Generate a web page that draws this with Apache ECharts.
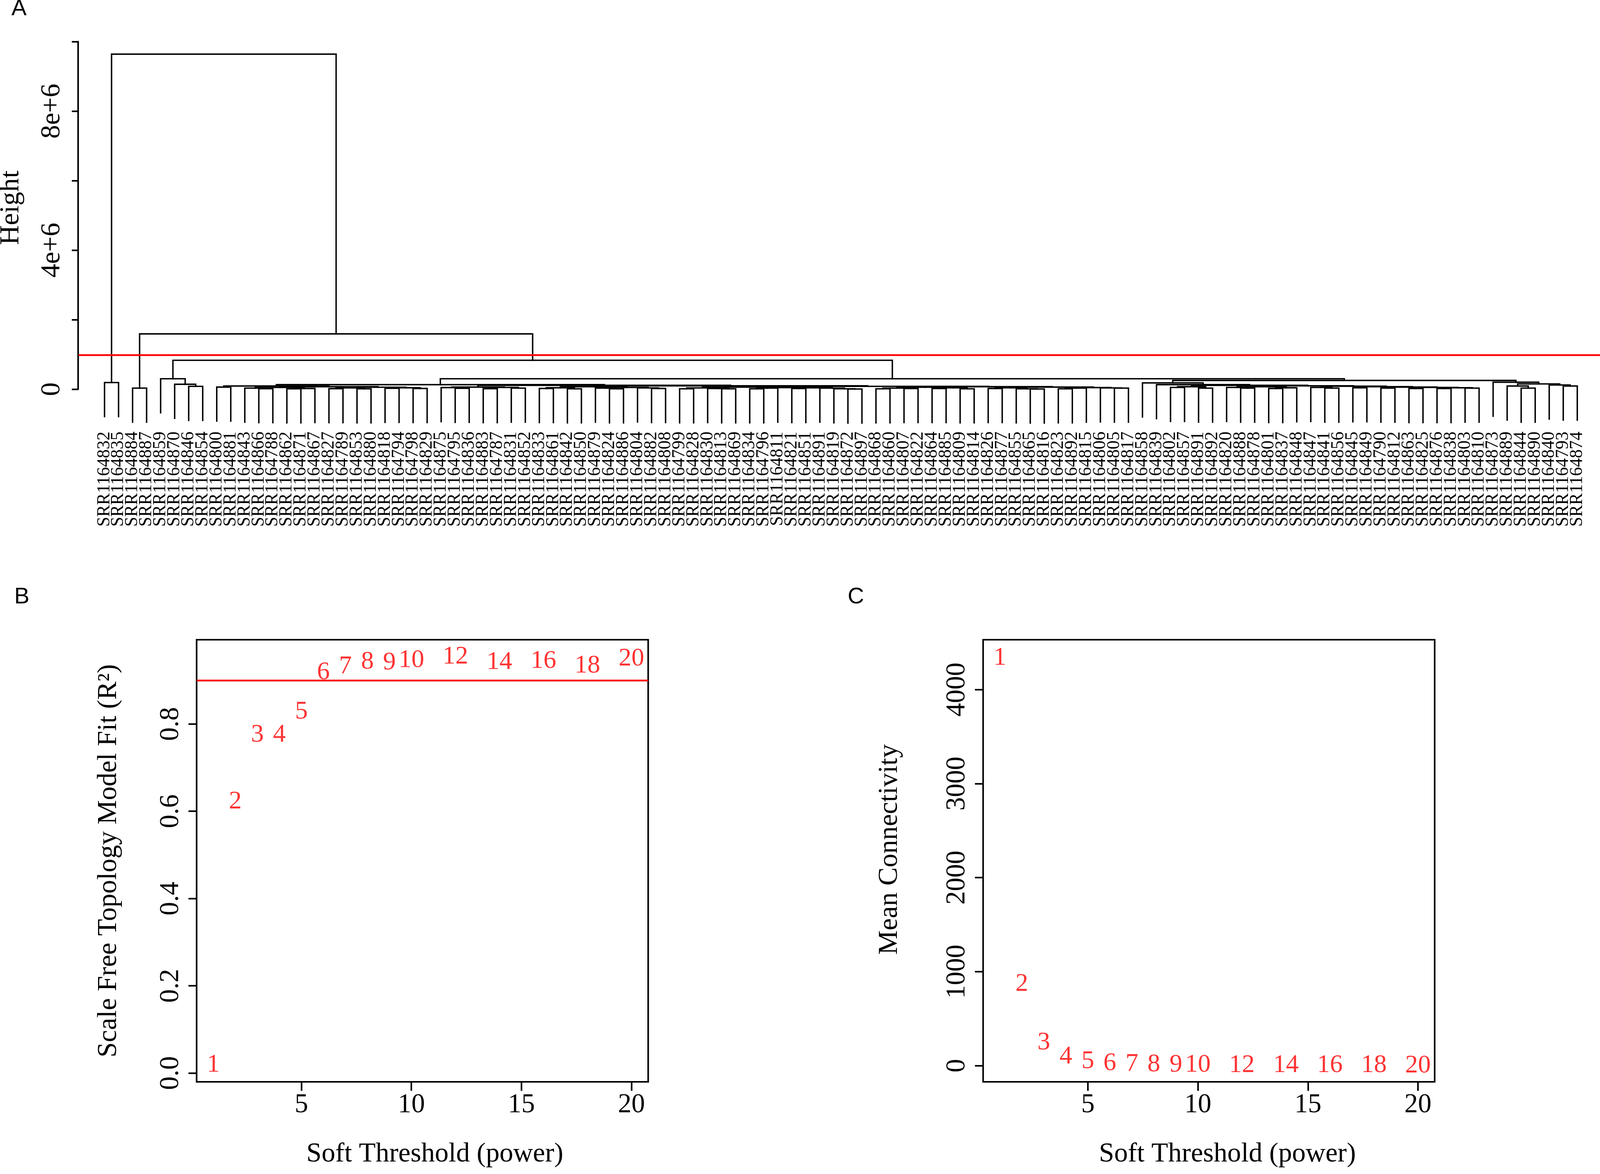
<!DOCTYPE html>
<html>
<head>
<meta charset="utf-8">
<script src="https://cdn.jsdelivr.net/npm/echarts@6/dist/echarts.min.js"></script>
<style>
	html, body { margin: 0; padding: 0; background: #fff; overflow: hidden; }
	#content-data { width: 100vw; height: 100vh; }
</style>
</head>
<body>
<div id="content-data"></div>
<script>
/*DATA*/
// sample labels in dendrogram leaf order
var leafNames = [
	'SRR1164832','SRR1164835','SRR1164884','SRR1164887','SRR1164859','SRR1164870','SRR1164846','SRR1164854','SRR1164800','SRR1164881',
	'SRR1164843','SRR1164866','SRR1164788','SRR1164862','SRR1164871','SRR1164867','SRR1164827','SRR1164789','SRR1164853','SRR1164880',
	'SRR1164818','SRR1164794','SRR1164798','SRR1164829','SRR1164875','SRR1164795','SRR1164836','SRR1164883','SRR1164787','SRR1164831',
	'SRR1164852','SRR1164833','SRR1164861','SRR1164842','SRR1164850','SRR1164879','SRR1164824','SRR1164886','SRR1164804','SRR1164882',
	'SRR1164808','SRR1164799','SRR1164828','SRR1164830','SRR1164813','SRR1164869','SRR1164834','SRR1164796','SRR1164811','SRR1164821',
	'SRR1164851','SRR1164891','SRR1164819','SRR1164872','SRR1164897','SRR1164868','SRR1164860','SRR1164807','SRR1164822','SRR1164864',
	'SRR1164885','SRR1164809','SRR1164814','SRR1164826','SRR1164877','SRR1164855','SRR1164865','SRR1164816','SRR1164823','SRR1164892',
	'SRR1164815','SRR1164806','SRR1164805','SRR1164817','SRR1164858','SRR1164839','SRR1164802','SRR1164857','SRR1164891','SRR1164892',
	'SRR1164820','SRR1164888','SRR1164878','SRR1164801','SRR1164837','SRR1164848','SRR1164847','SRR1164841','SRR1164856','SRR1164845',
	'SRR1164849','SRR1164790','SRR1164812','SRR1164863','SRR1164825','SRR1164876','SRR1164838','SRR1164803','SRR1164810','SRR1164873',
	'SRR1164889','SRR1164844','SRR1164890','SRR1164840','SRR1164793','SRR1164874'
];

// cluster tree: [height, left, right], numbers are leaf positions (1-based)
var clusterG = [0.13e6,
	[0.09e6, [0.06e6, 9, 10],
		[0.07e6,
			[0.05e6, [0.03e6, 11, [0.015e6, 12, 13]], [0.02e6, [0.01e6, 14, 15], 16]],
			[0.055e6, [0.035e6, [0.015e6, 17, 18], [0.01e6, 19, 20]], [0.04e6, [0.025e6, 21, 22], [0.02e6, 23, 24]]]]],
	[0.11e6,
		[0.06e6, [0.045e6, 25, [0.025e6, 26, 27]], [0.05e6, [0.015e6, 28, 29], [0.03e6, 30, 31]]],
		[0.095e6,
			[0.07e6, [0.04e6, [0.02e6, 32, 33], [0.01e6, 34, 35]], [0.05e6, [0.03e6, 36, [0.01e6, 37, 38]], [0.035e6, 39, [0.02e6, 40, 41]]]],
			[0.08e6,
				[0.06e6, [0.035e6, [0.01e6, 42, 43], [0.02e6, 44, [0.01e6, 45, 46]]],
					[0.045e6, [0.03e6, [0.01e6, 47, 48], 49], [0.04e6, [0.02e6, 50, 51], [0.03e6, 52, [0.01e6, 53, [0.005e6, 54, 55]]]]]],
				[0.07e6,
					[0.055e6, [0.03e6, [0.01e6, 56, 57], [0.02e6, 58, 59]], [0.04e6, [0.02e6, 60, 61], [0.01e6, 62, 63]]],
					[0.06e6, [0.04e6, [0.02e6, 64, 65], [0.01e6, 66, [0.005e6, 67, 68]]],
						[0.045e6, [0.03e6, [0.01e6, 69, 70], 71], [0.035e6, 72, [0.03e6, 73, 74]]]]]]]]
];
var clusterH = [0.25e6,
	[0.18e6, 75,
		[0.13e6, 76,
			[0.11e6, [0.07e6, [0.05e6, 77, 78], [0.03e6, 79, 80]],
				[0.095e6,
					[0.07e6, [0.05e6, 81, [0.03e6, 82, 83]], [0.04e6, [0.02e6, 84, 85], 86]],
					[0.085e6, [0.05e6, 87, [0.03e6, 88, 89]],
						[0.07e6, [0.04e6, 90, 91], [0.06e6, [0.03e6, 92, 93], [0.05e6, [0.02e6, 94, 95], [0.04e6, [0.02e6, 96, 97], [0.03e6, 98, 99]]]]]]]]]],
	[0.20e6, 100, [0.15e6, [0.09e6, 101, [0.03e6, 102, 103]], [0.12e6, 104, [0.09e6, 105, 106]]]]
];
var dendroTree = [9.64e6,
	[0.19e6, 1, 2],
	[1.59e6,
		[0.03e6, 3, 4],
		[0.83e6,
			[0.30e6, 5, [0.14e6, 6, [0.08e6, 7, 8]]],
			[0.30e6, clusterG, clusterH]]]
];
var hangHeight = 0.98e6;
var cutHeight = 0.98e6;
var heightTicks = [0, 2e6, 4e6, 6e6, 8e6, 10e6];
var heightTickLabels = ['0', '', '4e+6', '', '8e+6', ''];

// soft threshold
var powers = [1, 2, 3, 4, 5, 6, 7, 8, 9, 10, 12, 14, 16, 18, 20];
var scaleFreeFit = [0.019, 0.622, 0.775, 0.775, 0.828, 0.918, 0.931, 0.942, 0.940, 0.946, 0.954, 0.941, 0.944, 0.933, 0.949];
var meanConnectivity = [4335, 868, 245, 93, 45, 24, 15, 13, 8, 7, 4, 3, 2, 2, 1];
var fitCut = 0.9;
var powerTicks = [5, 10, 15, 20];
var fitTicks = [0, 0.2, 0.4, 0.6, 0.8];
var connTicks = [0, 1000, 2000, 3000, 4000];

/*LAYOUT OF THE TREE*/
function walkTree(node, segs){
	if (typeof node === 'number') {
		return { x: node, h: null };
	}
	var h = node[0];
	var l = walkTree(node[1], segs);
	var r = walkTree(node[2], segs);
	var lb = l.h === null ? h - hangHeight : l.h;
	var rb = r.h === null ? h - hangHeight : r.h;
	segs.push({ coords: [[l.x, lb], [l.x, h], [r.x, h], [r.x, rb]] });
	return { x: (l.x + r.x) / 2, h: h };
}

var serif = 'Liberation Serif';
var black = '#000';
// the layout was measured on a 4500 x 3006 picture, stretch it to the window
var sx = window.innerWidth / 4500;
var sy = window.innerHeight / 3006;
var sf = Math.min(sx, sy);
function X(v){ return v * sx; }
function Y(v){ return v * sy; }
function F(v){ return v * sf; }

function tickAxis(grid, ticks, extra, vertical){
	var ax = {
		type: 'value',
		gridIndex: grid,
		axisLine: { show: false, onZero: false },
		splitLine: { show: false },
		axisTick: { show: true, customValues: ticks, length: vertical ? X(23) : Y(23), lineStyle: { color: black, width: F(4.5) } },
		axisLabel: { customValues: ticks, color: black, fontFamily: serif, fontSize: F(76),
			formatter: function(v){ return String(v); } },
		nameLocation: 'middle',
		nameTextStyle: { color: black, fontFamily: serif, fontSize: F(77) }
	};
	for (var k in extra) {
		if (k === 'axisLabel' || k === 'nameTextStyle') {
			for (var j in extra[k]) ax[k][j] = extra[k][j];
		} else {
			ax[k] = extra[k];
		}
	}
	return ax;
}

function thresholdSeries(xi, values, extra){
	var s = {
		type: 'scatter',
		xAxisIndex: xi,
		yAxisIndex: xi,
		symbolSize: 2,
		itemStyle: { color: 'rgba(0,0,0,0)' },
		silent: true,
		data: powers.map(function(p, i){ return [p, values[i]]; }),
		label: {
			show: true,
			position: 'inside',
			offset: [0, Y(34)],
			color: '#ff0000',
			fontFamily: serif,
			fontSize: F(72),
			formatter: function(p){ return String(p.value[0]); }
		},
		labelLayout: { hideOverlap: false }
	};
	for (var k in extra) s[k] = extra[k];
	return s;
}

function letter(text, left, top){
	return { text: text, left: X(left), top: Y(top), padding: 0,
		textStyle: { fontFamily: 'Liberation Sans', fontSize: F(64), fontWeight: 'normal', color: black } };
}

function graphic1(){
	var dom = document.getElementById('content-data');
	var myChart = echarts.init(dom, null, { renderer: 'canvas' });

	var segs = [];
	walkTree(dendroTree, segs);
	var leafData = leafNames.map(function(n, i){ return [i + 1, 0]; });

	var option = {
		animation: false,
		backgroundColor: '#fff',
		title: [letter('A', 32, -6), letter('B', 40, 1500), letter('C', 2384, 1500)],
		grid: [
			{ left: X(221), right: 0, top: Y(100), height: Y(992), outerBoundsMode: 'none' },
			{ left: X(220), width: X(10), top: Y(106.6), height: Y(889.8), outerBoundsMode: 'none' },
			{ left: X(553), top: Y(1638), width: X(1270), height: Y(1132), show: true, borderColor: black, borderWidth: F(4.5), outerBoundsMode: 'none' },
			{ left: X(2765), top: Y(1638), width: X(1270), height: Y(1132), show: true, borderColor: black, borderWidth: F(4.5), outerBoundsMode: 'none' }
		],
		xAxis: [
			{ type: 'value', gridIndex: 0, min: -0.8504, max: 107.62, show: false },
			{ type: 'value', gridIndex: 1, show: false },
			tickAxis(2, powerTicks, { min: 0.24, max: 20.76, name: 'Soft Threshold (power)', nameGap: Y(151),
				axisLabel: { margin: Y(25) }, nameTextStyle: { padding: [0, 0, 0, X(70)] } }, false),
			tickAxis(3, powerTicks, { min: 0.24, max: 20.76, name: 'Soft Threshold (power)', nameGap: Y(151),
				axisLabel: { margin: Y(25) }, nameTextStyle: { padding: [0, 0, 0, X(104)] } }, false)
		],
		yAxis: [
			{ type: 'value', gridIndex: 0, min: -1.0744e6, max: 10.074e6, show: false },
			{
				type: 'value', gridIndex: 1, min: 0, max: 10e6, interval: 2e6,
				axisLine: { show: true, onZero: false, lineStyle: { color: black, width: F(4.5) } },
				axisTick: { length: X(18), lineStyle: { color: black, width: F(4.5) } },
				splitLine: { show: false },
				axisLabel: {
					rotate: 90, margin: X(35), color: black, fontFamily: serif, fontSize: F(77),
					showMinLabel: true, showMaxLabel: true,
					formatter: function(v){
						var i = heightTicks.indexOf(v);
						return i < 0 ? '' : heightTickLabels[i];
					}
				},
				name: 'Height', nameLocation: 'middle', nameGap: X(150),
				nameTextStyle: { color: black, fontFamily: serif, fontSize: F(77), padding: [0, 0, 0, Y(39)] }
			},
			tickAxis(2, fitTicks, { min: -0.02, max: 0.993, name: 'Scale Free Topology Model Fit (R²)', nameGap: X(209),
				axisLabel: { rotate: 90, margin: X(34), formatter: function(v){ return v.toFixed(1); } } }, true),
			tickAxis(3, connTicks, { min: -172, max: 4530, name: 'Mean Connectivity', nameGap: X(224),
				axisLabel: { rotate: 90, margin: X(34) }, nameTextStyle: { padding: [0, 0, 0, Y(58)] } }, true)
		],
		series: [
			{
				type: 'lines',
				coordinateSystem: 'cartesian2d',
				xAxisIndex: 0,
				yAxisIndex: 0,
				polyline: true,
				silent: true,
				lineStyle: { color: black, width: F(4), opacity: 1, cap: 'square' },
				data: segs
			},
			{
				// leaf labels, hanging under each leaf
				type: 'custom',
				xAxisIndex: 0,
				yAxisIndex: 0,
				silent: true,
				data: leafData,
				renderItem: function(params, api){
					var p = api.coord([api.value(0), 0]);
					var cs = params.coordSys;
					return {
						type: 'text',
						x: p[0],
						y: cs.y + cs.height + Y(13),
						rotation: Math.PI / 2,
						style: {
							text: leafNames[params.dataIndex],
							fill: black,
							fontFamily: serif,
							fontSize: F(50),
							align: 'right',
							verticalAlign: 'middle'
						}
					};
				}
			},
			{
				type: 'custom',
				xAxisIndex: 0,
				yAxisIndex: 0,
				silent: true,
				data: [[0, cutHeight]],
				renderItem: function(params, api){
					var y = api.coord([0, api.value(1)])[1];
					var cs = params.coordSys;
					return {
						type: 'line',
						shape: { x1: cs.x, y1: y, x2: cs.x + cs.width, y2: y },
						style: { stroke: '#ff0000', lineWidth: F(5) }
					};
				}
			},
			thresholdSeries(2, scaleFreeFit, {
				markLine: {
					silent: true, symbol: 'none', label: { show: false },
					lineStyle: { color: '#ff0000', width: F(5), type: 'solid' },
					data: [{ yAxis: fitCut }]
				}
			}),
			thresholdSeries(3, meanConnectivity, {})
		]
	};

	if (option && typeof option === 'object') {
		myChart.setOption(option);
	}
	window.addEventListener('resize', myChart.resize);
}
graphic1()
</script>
</body>
</html>
